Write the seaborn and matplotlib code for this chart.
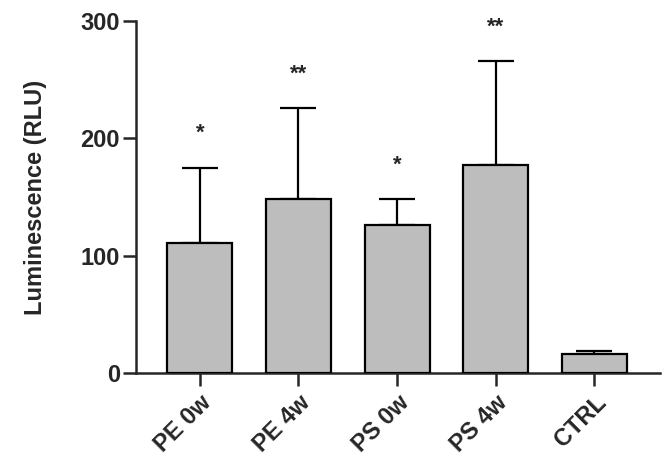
import numpy as np
import pandas as pd
import seaborn as sns
import matplotlib.pyplot as plt

groups = ['PE 0w', 'PE 4w', 'PS 0w', 'PS 4w', 'CTRL']
means = [111, 148, 126, 177, 16.5]
sd = [64, 78, 22, 89, 2.5]
stars = ['*', '**', '*', '**', '']

sns.set_style('ticks')
plt.rcParams['font.family'] = ['Liberation Sans', 'DejaVu Sans']
plt.rcParams['font.weight'] = 'bold'

df = pd.DataFrame({'group': groups, 'rlu': means})

fig = plt.figure(figsize=(6.69, 4.69), dpi=100)
ax = fig.add_axes([0.203, 0.205, 0.784, 0.75])

sns.barplot(data=df, x='group', y='rlu', color='#bdbdbd', saturation=1,
            edgecolor='black', linewidth=1.6, width=0.66, ax=ax, zorder=3)

x = np.arange(len(groups))
ax.errorbar(x, means, yerr=[np.zeros(len(sd)), sd], fmt='none',
            ecolor='black', elinewidth=1.6, capsize=13, capthick=1.6, zorder=2)

for xi, m, s, st in zip(x, means, sd, stars):
    if st:
        ax.text(xi, m + s + 20, st, ha='center', va='bottom', fontsize=16,
                fontweight='bold')

ax.set_ylim(0, 300)
ax.set_xlim(-0.65, 4.67)
ax.set_yticks([0, 100, 200, 300])
ax.set_xlabel('')
ax.set_ylabel('Luminescence (RLU)', fontsize=17, fontweight='bold', labelpad=24)
sns.despine(ax=ax)
for sp in ['left', 'bottom']:
    ax.spines[sp].set_linewidth(1.8)
ax.tick_params(axis='both', width=1.8, length=9.5, labelsize=17)
ax.tick_params(axis='y', pad=2)
plt.setp(ax.get_xticklabels(), rotation=45, ha='right', rotation_mode='anchor',
         fontweight='bold')
plt.setp(ax.get_yticklabels(), fontweight='bold')

fig.savefig('out.png', dpi=100)
